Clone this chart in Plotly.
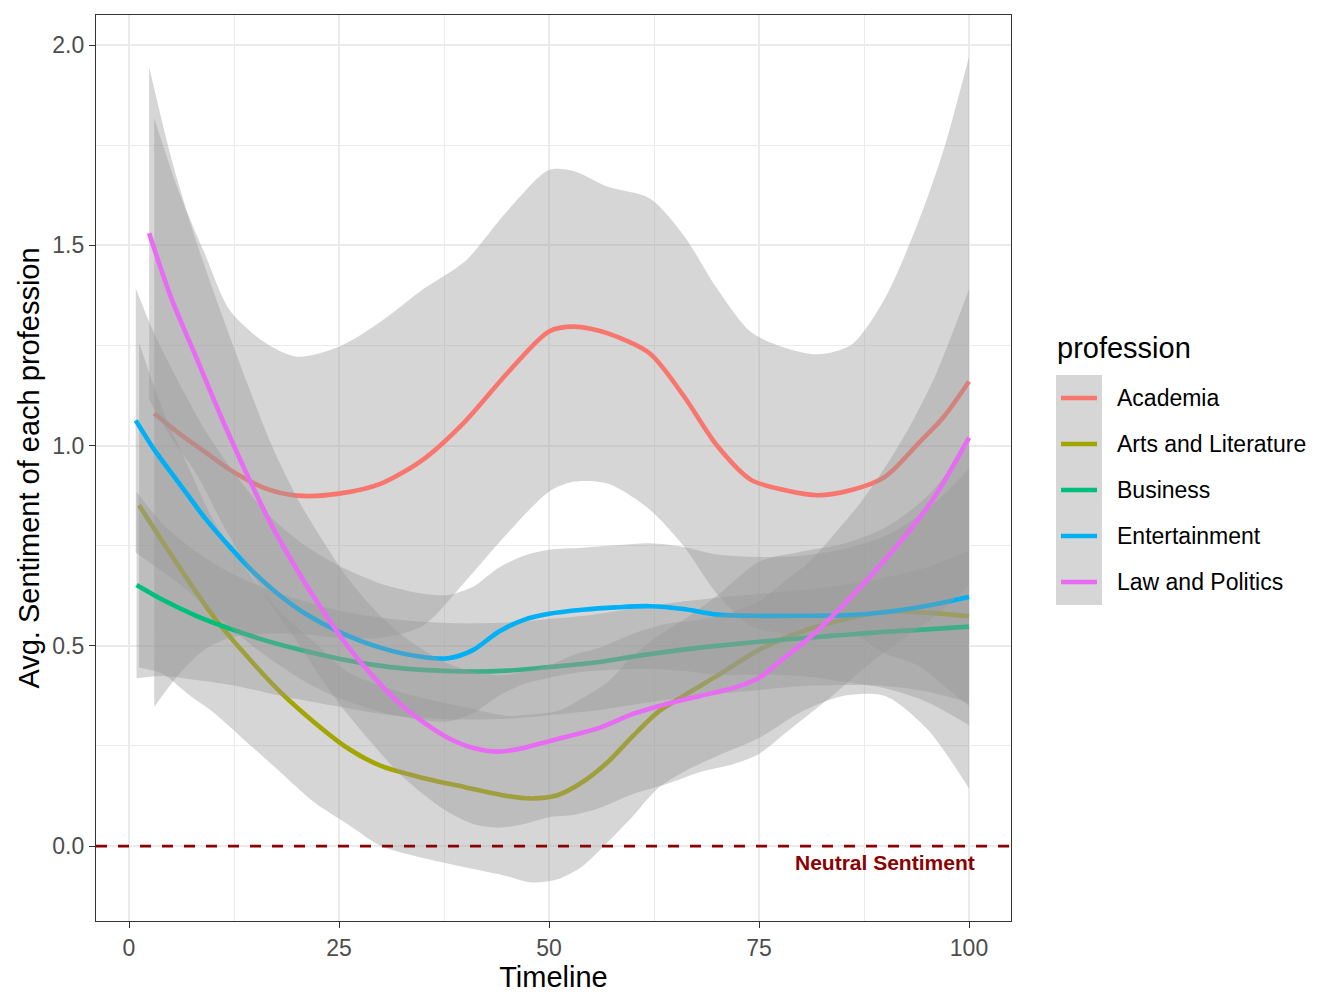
import plotly.graph_objects as go

# ---------------- data ----------------
professions = ["Academia", "Arts and Literature", "Business", "Entertainment", "Law and Politics"]
colors = ["#F8766D", "#A3A500", "#00BF7D", "#00B0F6", "#E76BF3"]

acad_x = [3, 6, 9, 12, 16, 20, 25, 30, 35, 40, 45, 50, 53, 57, 62, 66, 70, 74, 78, 82, 86, 90, 94, 97, 100]
acad_mean = [1.08, 1.03, 0.985, 0.94, 0.895, 0.875, 0.88, 0.905, 0.965, 1.06, 1.18, 1.285, 1.297, 1.28, 1.23, 1.125, 1.0, 0.915, 0.889, 0.876, 0.889, 0.922, 1.006, 1.072, 1.16]
acad_upper = [1.818, 1.63, 1.48, 1.338, 1.26, 1.222, 1.247, 1.31, 1.39, 1.46, 1.585, 1.688, 1.685, 1.646, 1.617, 1.526, 1.392, 1.284, 1.245, 1.228, 1.252, 1.368, 1.56, 1.74, 1.971]
acad_lower = [0.347, 0.43, 0.49, 0.52, 0.53, 0.53, 0.52, 0.52, 0.55, 0.66, 0.78, 0.885, 0.91, 0.905, 0.84, 0.75, 0.63, 0.55, 0.53, 0.52, 0.53, 0.48, 0.45, 0.40, 0.35]

arts_x = [1.2, 4, 7, 10, 14, 18, 22, 26, 30, 35, 40, 45, 48, 51, 54, 57, 60, 63, 66, 70, 75, 80, 85, 90, 95, 100]
arts_mean = [0.851, 0.76, 0.665, 0.575, 0.475, 0.385, 0.31, 0.245, 0.20, 0.17, 0.147, 0.125, 0.119, 0.127, 0.16, 0.21, 0.275, 0.335, 0.375, 0.425, 0.49, 0.535, 0.565, 0.585, 0.583, 0.574]
arts_upper = [1.256, 1.09, 0.95, 0.815, 0.69, 0.585, 0.51, 0.435, 0.40, 0.37, 0.347, 0.325, 0.329, 0.337, 0.37, 0.41, 0.475, 0.525, 0.565, 0.625, 0.71, 0.735, 0.755, 0.795, 0.873, 1.004]
arts_lower = [0.446, 0.43, 0.38, 0.335, 0.26, 0.185, 0.11, 0.055, 0.0, -0.03, -0.053, -0.075, -0.091, -0.083, -0.05, 0.01, 0.075, 0.145, 0.185, 0.225, 0.27, 0.335, 0.375, 0.375, 0.293, 0.144]

bus_x = [0.9, 4, 8, 12, 16, 20, 25, 30, 35, 40, 45, 50, 55, 60, 65, 70, 75, 80, 85, 90, 95, 100]
bus_mean = [0.652, 0.615, 0.575, 0.543, 0.515, 0.492, 0.468, 0.45, 0.44, 0.436, 0.438, 0.447, 0.457, 0.473, 0.488, 0.50, 0.51, 0.519, 0.527, 0.535, 0.541, 0.548]
bus_upper = [0.885, 0.805, 0.735, 0.683, 0.645, 0.617, 0.588, 0.57, 0.56, 0.556, 0.558, 0.567, 0.577, 0.593, 0.608, 0.62, 0.63, 0.639, 0.652, 0.67, 0.696, 0.738]
bus_lower = [0.419, 0.425, 0.415, 0.403, 0.385, 0.367, 0.348, 0.33, 0.32, 0.316, 0.318, 0.327, 0.337, 0.353, 0.368, 0.38, 0.39, 0.399, 0.402, 0.40, 0.386, 0.358]

ent_x = [0.8, 3, 6, 9, 12, 15, 18, 21, 25, 30, 35, 38, 41, 44, 47, 50, 54, 58, 62, 66, 70, 75, 80, 85, 90, 95, 100]
ent_mean = [1.063, 0.99, 0.905, 0.82, 0.747, 0.68, 0.625, 0.58, 0.535, 0.495, 0.472, 0.469, 0.49, 0.535, 0.565, 0.58, 0.59, 0.596, 0.599, 0.592, 0.578, 0.575, 0.575, 0.576, 0.584, 0.6, 0.622]
ent_upper = [1.393, 1.28, 1.155, 1.04, 0.947, 0.865, 0.80, 0.75, 0.70, 0.655, 0.63, 0.627, 0.648, 0.695, 0.725, 0.74, 0.745, 0.751, 0.756, 0.747, 0.728, 0.722, 0.725, 0.741, 0.774, 0.84, 0.942]
ent_lower = [0.733, 0.70, 0.655, 0.60, 0.547, 0.495, 0.45, 0.41, 0.37, 0.335, 0.314, 0.311, 0.332, 0.375, 0.405, 0.42, 0.435, 0.441, 0.442, 0.437, 0.428, 0.428, 0.425, 0.411, 0.394, 0.36, 0.302]

law_x = [2.4, 5, 8, 11, 14, 17, 20, 23, 26, 29, 32, 35, 38, 41, 44, 47, 50, 53, 56, 60, 64, 68, 72, 75, 78, 81, 84, 87, 90, 93, 96, 100]
law_mean = [1.53, 1.37, 1.22, 1.07, 0.93, 0.80, 0.69, 0.59, 0.50, 0.425, 0.36, 0.31, 0.27, 0.245, 0.236, 0.245, 0.262, 0.278, 0.295, 0.33, 0.355, 0.375, 0.395, 0.42, 0.47, 0.52, 0.58, 0.645, 0.715, 0.79, 0.875, 1.02]
law_upper = [1.945, 1.72, 1.51, 1.33, 1.16, 1.00, 0.87, 0.765, 0.67, 0.595, 0.535, 0.49, 0.455, 0.435, 0.426, 0.435, 0.452, 0.478, 0.495, 0.53, 0.555, 0.565, 0.585, 0.61, 0.66, 0.71, 0.78, 0.855, 0.945, 1.05, 1.175, 1.39]
law_lower = [1.115, 1.02, 0.93, 0.81, 0.70, 0.60, 0.51, 0.415, 0.33, 0.255, 0.185, 0.13, 0.085, 0.055, 0.046, 0.055, 0.072, 0.078, 0.095, 0.13, 0.155, 0.185, 0.205, 0.23, 0.28, 0.33, 0.38, 0.435, 0.485, 0.53, 0.575, 0.65]

x_ticks = [0, 25, 50, 75, 100]
y_ticks = [0.0, 0.5, 1.0, 1.5, 2.0]
y_tick_labels = ["0.0", "0.5", "1.0", "1.5", "2.0"]
neutral_label = "Neutral Sentiment"

series = [
    (acad_x, acad_mean, acad_lower, acad_upper),
    (arts_x, arts_mean, arts_lower, arts_upper),
    (bus_x, bus_mean, bus_lower, bus_upper),
    (ent_x, ent_mean, ent_lower, ent_upper),
    (law_x, law_mean, law_lower, law_upper),
]

FONT = "Liberation Sans, Arial, Helvetica, sans-serif"
BAND = "rgba(153,153,153,0.4)"

fig = go.Figure()
for name, col, (xs, m, lo, hi) in zip(professions, colors, series):
    fig.add_trace(go.Scatter(x=xs, y=lo, mode="lines", line=dict(width=0, shape="spline", smoothing=0.8),
                             showlegend=False, hoverinfo="skip"))
    fig.add_trace(go.Scatter(x=xs, y=hi, mode="lines", line=dict(width=0, shape="spline", smoothing=0.8),
                             fill="tonexty", fillcolor=BAND, showlegend=False, hoverinfo="skip"))
    fig.add_trace(go.Scatter(x=xs, y=m, mode="lines", name=name,
                             line=dict(color=col, width=4.6, shape="spline", smoothing=0.8),
                             showlegend=False))

# plot area in pixels: x 96..1011, y 15..921
L, R, T, B = 96, 1011, 15, 921
W, H = 1344, 1008


def px_x(p):
    return (p - L) / (R - L)


def px_y(p):
    return (B - p) / (B - T)


fig.update_layout(
    width=W, height=H,
    margin=dict(l=L, r=W - R, t=T, b=H - B, pad=0),
    plot_bgcolor="white", paper_bgcolor="white",
    font=dict(family=FONT, color="black"),
    showlegend=False,
    xaxis=dict(
        range=[-3.93, 105.0], tickmode="array", tickvals=x_ticks,
        ticks="outside", ticklen=6, tickwidth=1.3, tickcolor="#333333",
        tickfont=dict(size=23, color="#4D4D4D", family=FONT),
        showgrid=True, gridcolor="#EBEBEB", gridwidth=2.4,
        minor=dict(tickmode="array", tickvals=[12.5, 37.5, 62.5, 87.5], showgrid=True,
                   gridcolor="#EBEBEB", gridwidth=1.2, ticks=""),
        showline=True, mirror=True, linecolor="#333333", linewidth=1.3, zeroline=False,
        title=dict(text="Timeline", font=dict(size=29, color="black", family=FONT), standoff=6),
    ),
    yaxis=dict(
        range=[-0.187, 2.075], tickmode="array", tickvals=y_ticks, ticktext=y_tick_labels,
        ticks="outside", ticklen=6, tickwidth=1.3, tickcolor="#333333",
        tickfont=dict(size=23, color="#4D4D4D", family=FONT),
        showgrid=True, gridcolor="#EBEBEB", gridwidth=2.4,
        minor=dict(tickmode="array", tickvals=[0.25, 0.75, 1.25, 1.75], showgrid=True,
                   gridcolor="#EBEBEB", gridwidth=1.2, ticks=""),
        showline=True, mirror=True, linecolor="#333333", linewidth=1.3, zeroline=False,
        title=dict(text="Avg. Sentiment of each profession", font=dict(size=29, color="black", family=FONT), standoff=4),
    ),
)

# neutral reference line
fig.add_shape(type="line", xref="paper", x0=0, x1=1, yref="y", y0=0, y1=0,
              line=dict(color="#8B0000", width=2.8, dash="11px,11px"), layer="above")
fig.add_annotation(x=90, y=-0.04, xref="x", yref="y", text="<b>" + neutral_label + "</b>",
                   showarrow=False, xanchor="center", yanchor="middle",
                   font=dict(size=21, color="#8B0000", family=FONT))

# custom legend (ggplot style)
fig.add_annotation(x=px_x(1055), y=px_y(348), xref="paper", yref="paper", text="profession",
                   showarrow=False, xanchor="left", yanchor="middle",
                   font=dict(size=29, color="black", family=FONT))
key_top, key_h = 375, 46
for i, (name, col) in enumerate(zip(professions, colors)):
    y0 = key_top + i * key_h
    yc = y0 + key_h / 2
    fig.add_shape(type="rect", xref="paper", yref="paper",
                  x0=px_x(1056), x1=px_x(1102), y0=px_y(y0 + key_h), y1=px_y(y0),
                  fillcolor="#D6D6D6", line=dict(width=0), layer="above")
    fig.add_shape(type="line", xref="paper", yref="paper",
                  x0=px_x(1061), x1=px_x(1097), y0=px_y(yc), y1=px_y(yc),
                  line=dict(color=col, width=4.6), layer="above")
    fig.add_annotation(x=px_x(1115), y=px_y(yc), xref="paper", yref="paper", text=name,
                       showarrow=False, xanchor="left", yanchor="middle",
                       font=dict(size=23, color="black", family=FONT))

fig.write_html("out.html")
